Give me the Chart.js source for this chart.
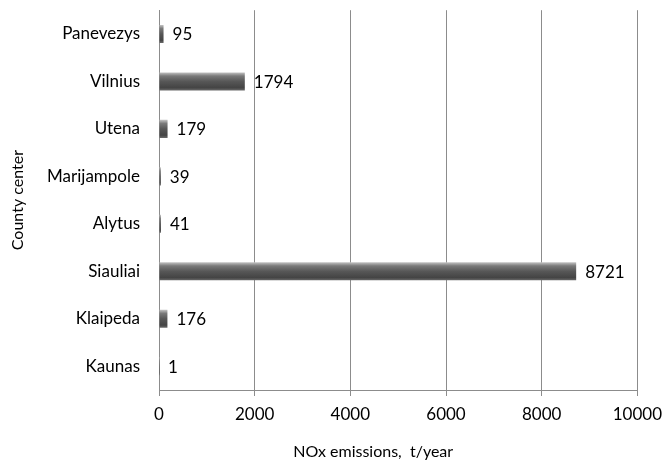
<!DOCTYPE html>
<html>
<head>
<meta charset="utf-8">
<script src="https://cdn.jsdelivr.net/npm/chart.js@4"></script>
<style>
  html, body { margin: 0; padding: 0; background: #fff; }
  #wrap { width: 670px; height: 466px; }
</style>
</head>
<body>
<div id="wrap"><canvas id="noxChart" width="670" height="466"></canvas></div>
<script>
const counties = ['Panevezys', 'Vilnius', 'Utena', 'Marijampole', 'Alytus', 'Siauliai', 'Klaipeda', 'Kaunas'];
const noxValues = [95, 1794, 179, 39, 41, 8721, 176, 1];
const xTicks = [0, 2000, 4000, 6000, 8000, 10000];
const xTitle = 'NOx emissions,  t/year';

const FONT = "Lato, 'Open Sans', sans-serif";
const FONT_SIZE = 17;

// shaded "cylinder" fill, built per bar once positions are known
const barShading = {
    id: 'barShading',
    beforeDatasetsDraw(chart) {
        const ctx = chart.ctx;
        chart.getDatasetMeta(0).data.forEach(bar => {
            const top = bar.y - bar.height / 2;
            const g = ctx.createLinearGradient(0, top, 0, top + bar.height);
            g.addColorStop(0, '#c4c4c4');
            g.addColorStop(0.2, '#7a7a7a');
            g.addColorStop(0.5, '#575757');
            g.addColorStop(0.85, '#444444');
            g.addColorStop(1, '#6a6a6a');
            bar.options.backgroundColor = g;
        });
    }
};

// value labels just right of each bar + the x title (sits a bit left of centre in the original)
const valueLabels = {
    id: 'valueLabels',
    afterDatasetsDraw(chart) {
        const ctx = chart.ctx;
        const meta = chart.getDatasetMeta(0);
        ctx.save();
        ctx.font = FONT_SIZE + 'px ' + FONT;
        ctx.fillStyle = '#000';
        ctx.textBaseline = 'middle';
        meta.data.forEach((bar, i) => {
            ctx.fillText(String(noxValues[i]), bar.x + 9, bar.y + 1);
        });
        const area = chart.chartArea;
        ctx.font = '16px ' + FONT;
        ctx.textAlign = 'center';
        ctx.fillText(xTitle, (area.left + area.right) / 2 - 25, chart.height - 14);
        ctx.restore();
    }
};

new Chart(document.getElementById('noxChart'), {
    type: 'bar',
    data: {
        labels: counties,
        datasets: [{
            data: noxValues,
            // scriptable so every bar gets its own options object
            backgroundColor: () => '#555',
            borderWidth: 0,
            categoryPercentage: 1,
            barPercentage: 0.38
        }]
    },
    options: {
        indexAxis: 'y',
        responsive: false,
        animation: false,
        layout: { padding: { top: 0, right: 26, bottom: 4, left: 0 } },
        plugins: {
            legend: { display: false },
            tooltip: { enabled: false }
        },
        scales: {
            x: {
                min: 0,
                max: 10000,
                afterBuildTicks(axis) { axis.ticks = xTicks.map(v => ({ value: v })); },
                afterFit(axis) { axis.height = 72; },
                grid: { color: '#8c8c8c', lineWidth: 1, tickLength: 6 },
                border: { display: true, color: '#8c8c8c' },
                ticks: {
                    color: '#000',
                    font: { family: FONT, size: FONT_SIZE },
                    padding: 8,
                    callback: v => String(v)
                },
                title: { display: false }
            },
            y: {
                afterFit(axis) { axis.width = 159; },
                // invisible tick marks used as the gap between label and axis
                grid: { display: false, drawTicks: true, tickLength: 19, tickColor: 'rgba(0,0,0,0)' },
                border: { display: true, color: '#8c8c8c' },
                ticks: { color: '#000', font: { family: FONT, size: FONT_SIZE }, padding: 0 },
                title: {
                    display: true,
                    text: 'County center',
                    color: '#000',
                    font: { family: FONT, size: 16 },
                    padding: { top: 8, bottom: 0 }
                }
            }
        }
    },
    plugins: [barShading, valueLabels]
});
</script>
</body>
</html>
